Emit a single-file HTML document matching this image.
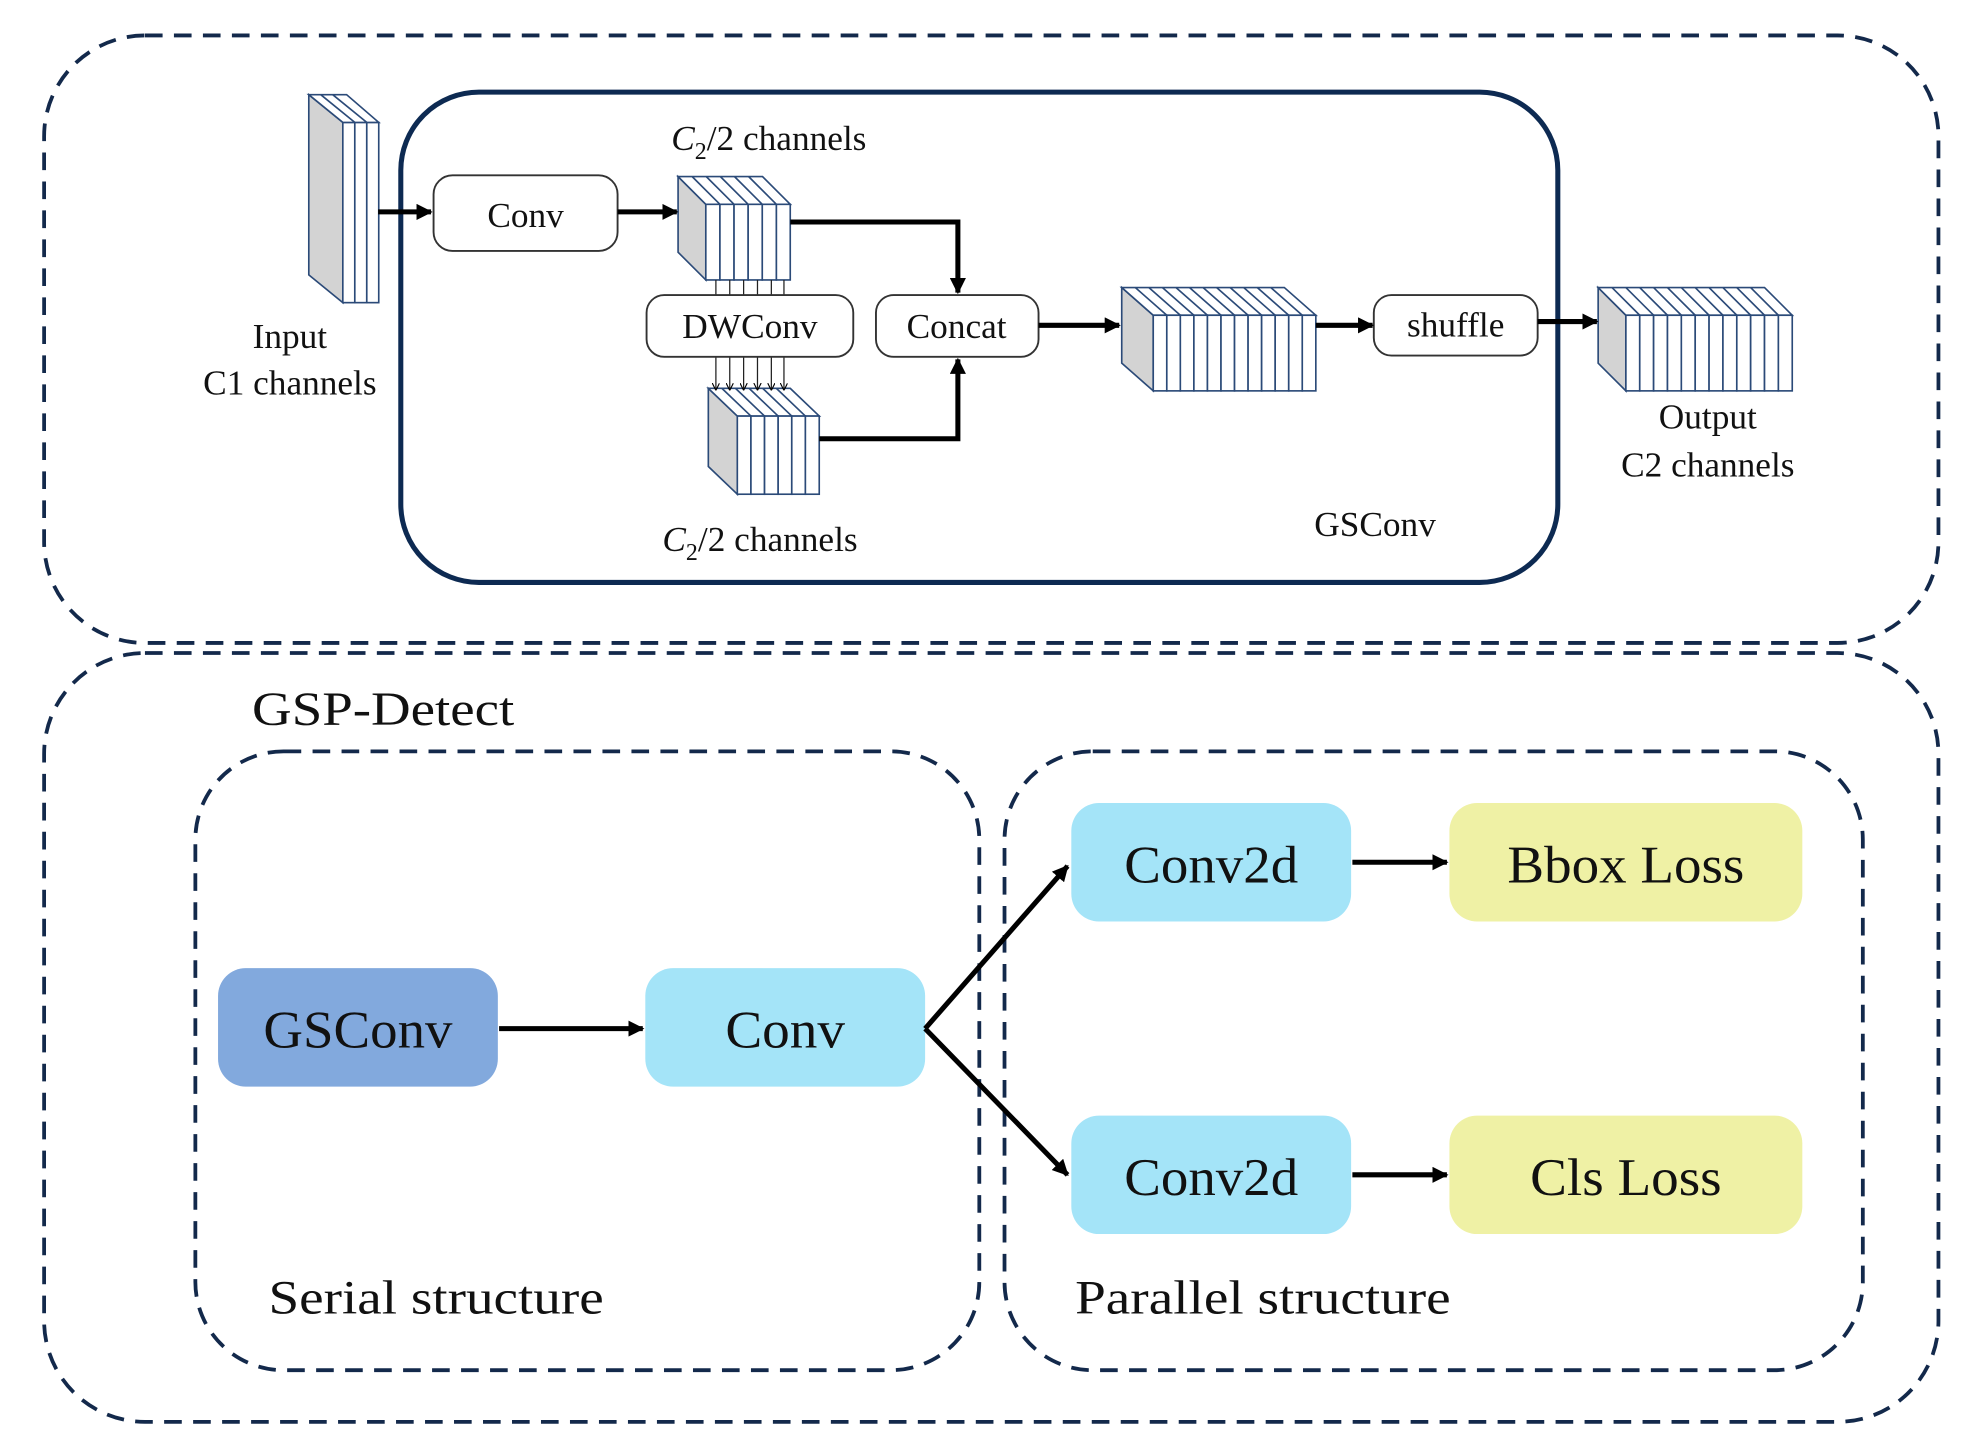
<!DOCTYPE html>
<html><head><meta charset="utf-8"><style>
html,body{margin:0;padding:0;background:#fff;}
svg{display:block;}
text{font-family:"Liberation Serif",serif;fill:#111;}
</style></head><body>
<svg width="1975" height="1451" viewBox="0 0 1567 1151" xmlns="http://www.w3.org/2000/svg">
<defs>
<marker id="ah" viewBox="0 0 10 10" refX="9" refY="5" markerWidth="3.2" markerHeight="3.2" orient="auto"><path d="M0,0 L10,5 L0,10 z" fill="#000"/></marker>
<marker id="ahs" viewBox="0 0 10 10" refX="9" refY="5" markerWidth="6" markerHeight="6" orient="auto"><path d="M0,0 L10,5 L0,10" fill="none" stroke="#000" stroke-width="1.5"/></marker>
</defs>
<g fill="none" stroke="#13294b" stroke-width="3" stroke-dasharray="14 9">
<rect x="35" y="28" width="1503" height="482" rx="80"/>
<rect x="35" y="518" width="1503" height="610" rx="80"/>
<rect x="155" y="596" width="622" height="491" rx="70"/>
<rect x="797" y="596" width="681" height="491" rx="70"/>
</g>
<rect x="318" y="73" width="918" height="389" rx="62" fill="none" stroke="#0d2a52" stroke-width="4"/>

<g stroke="#2b4a78" stroke-width="1.3">
<polygon points="245,75 272,97 272,240 245,218" fill="#d3d3d3"/>
<g fill="#fff"><rect x="272" y="97" width="9.5" height="143"/><rect x="281.5" y="97" width="9.5" height="143"/><rect x="291" y="97" width="9.5" height="143"/></g>
<polygon points="245,75 275,75 300.5,97 272,97" fill="#fff"/>
<line x1="254.5" y1="75" x2="281.5" y2="97"/><line x1="264" y1="75" x2="291" y2="97"/>
<polygon points="538,140 560,162 560,222 538,200" fill="#d3d3d3"/>
<polygon points="538,140 605,140 627,162 560,162" fill="#fff"/>
<g fill="#fff"><rect x="560" y="162" width="11.2" height="60"/><rect x="571.2" y="162" width="11.2" height="60"/><rect x="582.4" y="162" width="11.2" height="60"/><rect x="593.6" y="162" width="11.2" height="60"/><rect x="604.8" y="162" width="11.2" height="60"/><rect x="616" y="162" width="11" height="60"/></g>
<g><line x1="549.2" y1="140" x2="571.2" y2="162"/><line x1="560.4" y1="140" x2="582.4" y2="162"/><line x1="571.6" y1="140" x2="593.6" y2="162"/><line x1="582.8" y1="140" x2="604.8" y2="162"/><line x1="594" y1="140" x2="616" y2="162"/></g>
<polygon points="562,308 585,330 585,392 562,370" fill="#d3d3d3"/>
<polygon points="562,308 627,308 650,330 585,330" fill="#fff"/>
<g fill="#fff"><rect x="585" y="330" width="10.8" height="62"/><rect x="595.8" y="330" width="10.8" height="62"/><rect x="606.6" y="330" width="10.8" height="62"/><rect x="617.4" y="330" width="10.8" height="62"/><rect x="628.2" y="330" width="10.8" height="62"/><rect x="639" y="330" width="11" height="62"/></g>
<g><line x1="572.8" y1="308" x2="595.8" y2="330"/><line x1="583.6" y1="308" x2="606.6" y2="330"/><line x1="594.4" y1="308" x2="617.4" y2="330"/><line x1="605.2" y1="308" x2="628.2" y2="330"/><line x1="616" y1="308" x2="639" y2="330"/></g>
<polygon points="890,228 915,250 915,310 890,288" fill="#d3d3d3"/>
<polygon points="890,228 1019,228 1044,250 915,250" fill="#fff"/>
<g fill="#fff">
<rect x="915" y="250" width="10.75" height="60"/><rect x="925.75" y="250" width="10.75" height="60"/><rect x="936.5" y="250" width="10.75" height="60"/><rect x="947.25" y="250" width="10.75" height="60"/><rect x="958" y="250" width="10.75" height="60"/><rect x="968.75" y="250" width="10.75" height="60"/><rect x="979.5" y="250" width="10.75" height="60"/><rect x="990.25" y="250" width="10.75" height="60"/><rect x="1001" y="250" width="10.75" height="60"/><rect x="1011.75" y="250" width="10.75" height="60"/><rect x="1022.5" y="250" width="10.75" height="60"/><rect x="1033.25" y="250" width="10.75" height="60"/>
</g>
<g><line x1="900.75" y1="228" x2="925.75" y2="250"/><line x1="911.5" y1="228" x2="936.5" y2="250"/><line x1="922.25" y1="228" x2="947.25" y2="250"/><line x1="933" y1="228" x2="958" y2="250"/><line x1="943.75" y1="228" x2="968.75" y2="250"/><line x1="954.5" y1="228" x2="979.5" y2="250"/><line x1="965.25" y1="228" x2="990.25" y2="250"/><line x1="976" y1="228" x2="1001" y2="250"/><line x1="986.75" y1="228" x2="1011.75" y2="250"/><line x1="997.5" y1="228" x2="1022.5" y2="250"/><line x1="1008.25" y1="228" x2="1033.25" y2="250"/></g>
<polygon points="1268,228 1290,250 1290,310 1268,288" fill="#d3d3d3"/>
<polygon points="1268,228 1400,228 1422,250 1290,250" fill="#fff"/>
<g fill="#fff"><rect x="1290" y="250" width="11" height="60"/><rect x="1301" y="250" width="11" height="60"/><rect x="1312" y="250" width="11" height="60"/><rect x="1323" y="250" width="11" height="60"/><rect x="1334" y="250" width="11" height="60"/><rect x="1345" y="250" width="11" height="60"/><rect x="1356" y="250" width="11" height="60"/><rect x="1367" y="250" width="11" height="60"/><rect x="1378" y="250" width="11" height="60"/><rect x="1389" y="250" width="11" height="60"/><rect x="1400" y="250" width="11" height="60"/><rect x="1411" y="250" width="11" height="60"/></g>
<g><line x1="1279" y1="228" x2="1301" y2="250"/><line x1="1290" y1="228" x2="1312" y2="250"/><line x1="1301" y1="228" x2="1323" y2="250"/><line x1="1312" y1="228" x2="1334" y2="250"/><line x1="1323" y1="228" x2="1345" y2="250"/><line x1="1334" y1="228" x2="1356" y2="250"/><line x1="1345" y1="228" x2="1367" y2="250"/><line x1="1356" y1="228" x2="1378" y2="250"/><line x1="1367" y1="228" x2="1389" y2="250"/><line x1="1378" y1="228" x2="1400" y2="250"/><line x1="1389" y1="228" x2="1411" y2="250"/></g>
</g>

<g stroke="#222" stroke-width="1">
<line x1="568" y1="222" x2="568" y2="234"/><line x1="579" y1="222" x2="579" y2="234"/><line x1="590" y1="222" x2="590" y2="234"/><line x1="601" y1="222" x2="601" y2="234"/><line x1="612" y1="222" x2="612" y2="234"/><line x1="622" y1="222" x2="622" y2="234"/>
</g>
<g stroke="#222" stroke-width="1" marker-end="url(#ahs)">
<line x1="568" y1="283" x2="568" y2="309"/><line x1="579" y1="283" x2="579" y2="309"/><line x1="590" y1="283" x2="590" y2="309"/><line x1="601" y1="283" x2="601" y2="309"/><line x1="612" y1="283" x2="612" y2="309"/><line x1="622" y1="283" x2="622" y2="309"/>
</g>

<g fill="#fff" stroke="#333" stroke-width="1.5">
<rect x="344" y="139" width="146" height="60" rx="15"/>
<rect x="513" y="234" width="164" height="49" rx="14"/>
<rect x="695" y="234" width="129" height="49" rx="14"/>
<rect x="1090" y="234" width="130" height="48" rx="14"/>
</g>

<g stroke="#000" stroke-width="4" fill="none" marker-end="url(#ah)">
<line x1="300" y1="168" x2="342" y2="168"/>
<line x1="490" y1="168" x2="537" y2="168"/>
<polyline points="627,176 760,176 760,232"/>
<polyline points="650,348 760,348 760,285"/>
<line x1="824" y1="258" x2="888" y2="258"/>
<line x1="1044" y1="258" x2="1089" y2="258"/>
<line x1="1220" y1="255" x2="1267" y2="255"/>
</g>

<g font-size="28" text-anchor="middle">
<text x="417" y="180">Conv</text>
<text x="595" y="268">DWConv</text>
<text x="759" y="268">Concat</text>
<text x="1155" y="267">shuffle</text>
<text x="230" y="276">Input</text>
<text x="230" y="313">C1 channels</text>
<text x="1355" y="340">Output</text>
<text x="1355" y="378">C2 channels</text>
<text x="1091" y="425">GSConv</text>
<text x="610" y="119"><tspan font-style="italic">C</tspan><tspan font-size="19" dy="7">2</tspan><tspan dy="-7">/2 channels</tspan></text>
<text x="603" y="437"><tspan font-style="italic">C</tspan><tspan font-size="19" dy="7">2</tspan><tspan dy="-7">/2 channels</tspan></text>
</g>

<text x="200" y="575" font-size="38" textLength="208" lengthAdjust="spacingAndGlyphs">GSP-Detect</text>
<rect x="173" y="768" width="222" height="94" rx="22" fill="#82a9dd"/>
<rect x="512" y="768" width="222" height="94" rx="22" fill="#a4e4f8"/>
<rect x="850" y="637" width="222" height="94" rx="22" fill="#a4e4f8"/>
<rect x="850" y="885" width="222" height="94" rx="22" fill="#a4e4f8"/>
<rect x="1150" y="637" width="280" height="94" rx="22" fill="#eff1a5"/>
<rect x="1150" y="885" width="280" height="94" rx="22" fill="#eff1a5"/>
<g stroke="#000" stroke-width="4" fill="none" marker-end="url(#ah)">
<line x1="396" y1="816" x2="510" y2="816"/>
<polyline points="734,816 847,687"/>
<polyline points="734,816 847,932"/>
<line x1="1073" y1="684" x2="1148" y2="684"/>
<line x1="1073" y1="932" x2="1148" y2="932"/>
</g>
<g font-size="42" text-anchor="middle">
<text x="284" y="831" textLength="150" lengthAdjust="spacingAndGlyphs">GSConv</text>
<text x="623" y="831" textLength="95" lengthAdjust="spacingAndGlyphs">Conv</text>
<text x="961" y="700" textLength="138" lengthAdjust="spacingAndGlyphs">Conv2d</text>
<text x="961" y="948" textLength="138" lengthAdjust="spacingAndGlyphs">Conv2d</text>
<text x="1290" y="700" textLength="188" lengthAdjust="spacingAndGlyphs">Bbox Loss</text>
<text x="1290" y="948" textLength="152" lengthAdjust="spacingAndGlyphs">Cls Loss</text>
</g>
<text x="213" y="1042" font-size="38" textLength="266" lengthAdjust="spacingAndGlyphs">Serial structure</text>
<text x="853" y="1042" font-size="38" textLength="298" lengthAdjust="spacingAndGlyphs">Parallel structure</text>
</svg>
</body></html>
